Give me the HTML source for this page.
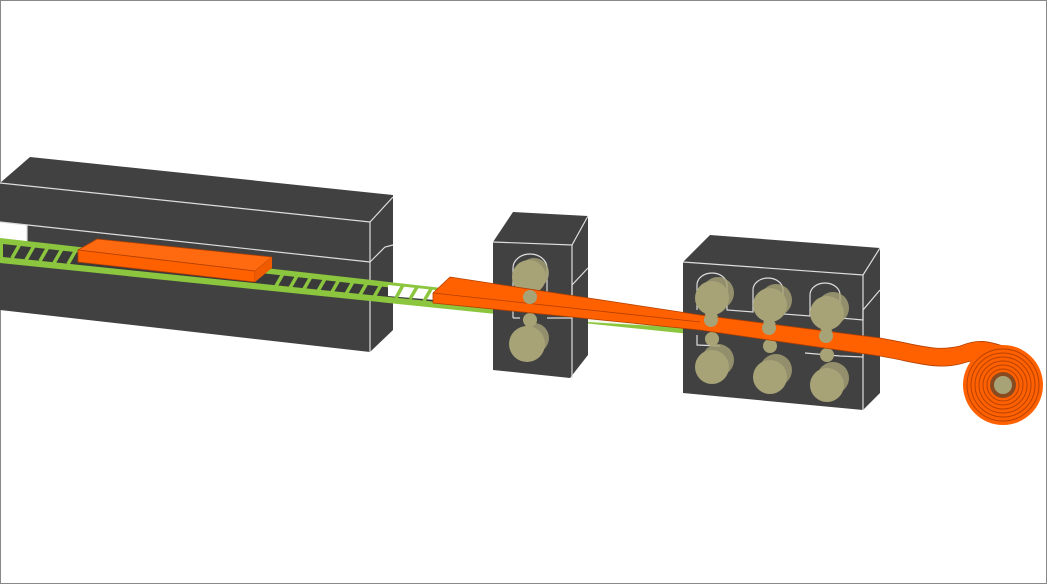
<!DOCTYPE html>
<html><head><meta charset="utf-8"><style>html,body{margin:0;padding:0;background:#fff}svg{display:block}</style></head>
<body>
<svg width="1048" height="584" viewBox="0 0 1048 584" xmlns="http://www.w3.org/2000/svg">
<rect x="0.5" y="0.5" width="1046" height="583" fill="#fff" stroke="#888" stroke-width="1"/>
<!-- furnace -->
<polygon points="0,183 30,157 393,195 393,330 370,352 0,310" fill="#414141"/>
<polygon points="0,222 27,225 27,243 0,241" fill="#fff"/>
<g stroke="#ddd" stroke-width="1.2" fill="none">
<polyline points="0,183 370,222 393,197"/>
<line x1="370" y1="222" x2="370" y2="262"/>
<polyline points="0,222 370,262"/>
<polyline points="370,262 385,247 393,245"/>
<line x1="370" y1="262" x2="370" y2="352"/>
<polyline points="27,225 27,243"/>
</g>
<!-- conveyor -->
<polygon points="0,238 690,316 690,334 0,263" fill="#8cc63f"/>
<polygon points="3,244 688,321 688,328 3,257" fill="#3a3a3a"/>
<g stroke="#8cc63f" stroke-width="3.5">
<line x1="12" y1="258" x2="20" y2="244"/><line x1="26" y1="260" x2="34" y2="246"/><line x1="40" y1="261" x2="48" y2="247"/><line x1="54" y1="263" x2="62" y2="249"/><line x1="68" y1="264" x2="76" y2="250"/>
<line x1="276" y1="286" x2="284" y2="272"/><line x1="290" y1="288" x2="298" y2="274"/><line x1="304" y1="289" x2="312" y2="275"/><line x1="318" y1="291" x2="326" y2="277"/><line x1="332" y1="292" x2="340" y2="278"/><line x1="346" y1="294" x2="354" y2="280"/><line x1="360" y1="295" x2="368" y2="281"/><line x1="374" y1="297" x2="382" y2="283"/>
</g>
<polygon points="388,285 435,290 435,300 388,296" fill="#fff"/>
<g stroke="#8cc63f" stroke-width="3.5"><line x1="396" y1="298" x2="403" y2="285"/><line x1="410" y1="299" x2="417" y2="287"/><line x1="424" y1="301" x2="431" y2="289"/></g>
<polygon points="570,318 690,323 690,328 570,321" fill="#fff" opacity="0.9"/>
<!-- furnace slab -->
<polygon points="78,250 97,239 272,257 255,271" fill="#ff6a10" stroke="#b24000" stroke-width="0.8"/>
<polygon points="78,250 255,271 255,282 78,262" fill="#ff6000" stroke="#b24000" stroke-width="0.8"/>
<polygon points="255,271 272,257 272,268 255,282" fill="#f05a00"/>
<!-- stand 1 -->
<polygon points="493,242 513,212 588,216 588,355 570,378 493,370" fill="#414141"/>
<g stroke="#ddd" stroke-width="1.2" fill="none">
<polyline points="493,242 572,245 588,216"/><line x1="572" y1="245" x2="572" y2="378"/>
<path d="M513,298 L513,268 A17,14 0 0 1 547,268 L547,298 L572,298 L572,285 L588,268"/>
<path d="M513,318 L513,305 M513,318 L520,318 M547,318 L572,318 L572,312"/>
</g>
<!-- stand 2 -->
<polygon points="683,262 710,235 880,248 880,393 863,410 683,393" fill="#414141"/>
<g stroke="#ddd" stroke-width="1.2" fill="none">
<polyline points="683,262 863,275 880,248"/><line x1="863" y1="275" x2="863" y2="410"/>
<path d="M697,310 L697,285 A15,12 0 0 1 727,285 L727,310 L753,312 L753,290 A15,12 0 0 1 783,290 L783,314 L810,316 L810,295 A15,12 0 0 1 840,295 L840,318 L863,320 L863,310 L880,290"/>
<path d="M697,335 L697,345 L720,346 M805,353 L840,356 L863,357 L863,350"/>
</g>
<!-- rolls -->
<g fill="#a8a377">
<circle cx="534" cy="273" r="15" opacity="0.8"/><circle cx="529" cy="277" r="17"/><circle cx="530" cy="297" r="7"/>
<circle cx="530" cy="320" r="7"/><circle cx="534" cy="338" r="15" opacity="0.8"/><circle cx="527" cy="344" r="18"/>
<circle cx="718" cy="293" r="16" opacity="0.8"/><circle cx="712" cy="298" r="17"/><circle cx="711" cy="318" r="7"/>
<circle cx="712" cy="339" r="7"/><circle cx="718" cy="360" r="16" opacity="0.8"/><circle cx="712" cy="367" r="17"/>
<circle cx="776" cy="300" r="16" opacity="0.8"/><circle cx="770" cy="305" r="17"/><circle cx="769" cy="326" r="7"/>
<circle cx="770" cy="346" r="7"/><circle cx="776" cy="370" r="16" opacity="0.8"/><circle cx="770" cy="377" r="17"/>
<circle cx="833" cy="308" r="16" opacity="0.8"/><circle cx="827" cy="313" r="17"/><circle cx="826" cy="334" r="7"/>
<circle cx="827" cy="355" r="7"/><circle cx="833" cy="378" r="16" opacity="0.8"/><circle cx="827" cy="385" r="17"/>
</g>
<!-- strip -->
<path d="M433,293 L450,277 L700,315 L880,338 C920,345 935,352 960,346 C980,338 990,342 1003,346 L1003,362 C985,358 980,358 960,364 C935,370 915,362 880,356 L700,330 L433,303 Z" fill="#ff6000" stroke="#b24000" stroke-width="0.8"/>
<line x1="433" y1="293" x2="700" y2="322" stroke="#b24000" stroke-width="0.8"/>
<g fill="#a8a377"><circle cx="530" cy="297" r="7"/><circle cx="711" cy="320" r="7"/><circle cx="769" cy="328" r="7"/><circle cx="826" cy="336" r="7"/></g>
<!-- coil -->
<circle cx="1003" cy="385" r="40" fill="#ff6000"/>
<g fill="none" stroke="#b84200" stroke-width="1">
<circle cx="1003" cy="385" r="36"/><circle cx="1003" cy="385" r="32"/><circle cx="1003" cy="385" r="28"/><circle cx="1003" cy="385" r="24"/><circle cx="1003" cy="385" r="20"/><circle cx="1003" cy="385" r="16"/>
</g>
<circle cx="1003" cy="385" r="13" fill="#8a4a20"/>
<circle cx="1003" cy="385" r="9" fill="#a8a377"/>
</svg>
</body></html>
